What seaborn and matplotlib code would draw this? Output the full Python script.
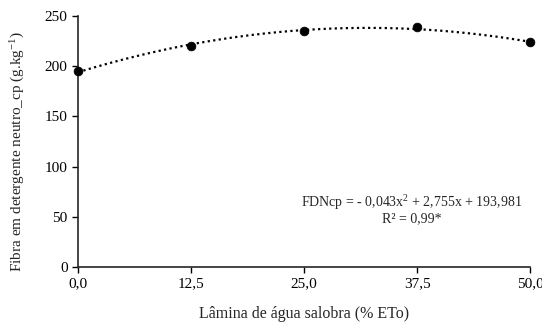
import numpy as np
import pandas as pd
import seaborn as sns
import matplotlib.pyplot as plt

# data
lamina = [0.0, 12.5, 25.0, 37.5, 50.0]
fdn = [195.5, 220.0, 235.3, 239.4, 223.8]
coef = [-0.043, 2.755, 193.981]   # fitted quadratic from the figure
x_ticks = [0.0, 12.5, 25.0, 37.5, 50.0]
x_tick_labels = ["0,0", "12,5", "25,0", "37,5", "50,0"]
y_ticks = [0, 50, 100, 150, 200, 250]

df = pd.DataFrame({"Lamina": lamina, "FDN": fdn})
xs = np.linspace(0, 50, 200)
fit = pd.DataFrame({"Lamina": xs, "FDN": np.polyval(coef, xs)})

sns.set_style("ticks")
plt.rcParams["font.family"] = ["Liberation Serif", "DejaVu Serif"]
plt.rcParams["mathtext.fontset"] = "custom"
plt.rcParams["mathtext.rm"] = "Liberation Serif"
plt.rcParams["mathtext.it"] = "Liberation Serif:italic"

fig = plt.figure(figsize=(5.42, 3.25), dpi=100)
ax = fig.add_axes([0.144, 0.178, 0.834, 0.773])

sns.lineplot(data=fit, x="Lamina", y="FDN", ax=ax, color="black",
             linestyle=(0, (1, 1.5)), linewidth=1.6)
sns.scatterplot(data=df, x="Lamina", y="FDN", ax=ax, color="black",
                s=40, edgecolor="black", zorder=3, clip_on=False)

ax.set_xlim(0, 50)
ax.set_ylim(0, 250)
ax.set_xticks(x_ticks)
ax.set_xticklabels(x_tick_labels)
ax.set_yticks(y_ticks)
ax.tick_params(labelsize=11, length=4, width=1, colors="black")
for s in ["top", "right"]:
    ax.spines[s].set_visible(False)
for s in ["left", "bottom"]:
    ax.spines[s].set_linewidth(1.2)

ax.set_xlabel("Lâmina de água salobra (% ETo)", fontsize=11.5, labelpad=11)
ax.set_ylabel("Fibra em detergente neutro_cp (g.kg$^{\\mathrm{-1}}$)", fontsize=11)
ax.yaxis.set_label_coords(-0.112, 0.46)

ax.text(36.9, 64, "FDNcp = - 0,043x$^{\\mathrm{2}}$ + 2,755x + 193,981", ha="center",
        va="center", fontsize=10)
ax.text(36.9, 48, "R² = 0,99*", ha="center", va="center", fontsize=10)

fig.savefig("out.png", dpi=100)
